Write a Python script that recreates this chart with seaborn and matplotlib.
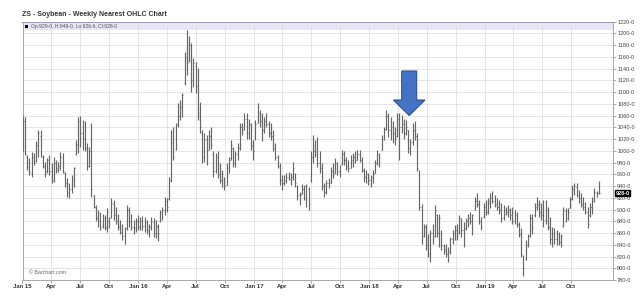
import numpy as np
import pandas as pd
import matplotlib
matplotlib.use("Agg")
import matplotlib.pyplot as plt
import matplotlib.dates as mdates
import matplotlib.transforms as mtransforms
from matplotlib.patches import Rectangle, Polygon
import seaborn as sns

# ---------------- data (weekly nearest soybean futures, cents/bu) ----------------
start_date = "2015-01-02"

high_2015 = [1060, 1058, 993, 987, 998, 996, 1016, 1035, 1036, 993, 981, 988, 993, 979, 990, 984, 981, 998, 996, 964,
             953, 945, 959, 973, 1018, 1058, 1059, 1052, 1050, 1013, 1007, 1047, 925, 908, 899, 896, 893, 891, 902, 888,
             919, 916, 905, 893, 882, 876, 871, 908, 905, 893, 882, 885]
low_2015 = [1000, 993, 968, 959, 956, 976, 981, 990, 990, 970, 955, 962, 959, 946, 947, 962, 964, 967, 962, 939,
            922, 919, 928, 939, 993, 996, 1007, 1001, 1000, 967, 973, 922, 902, 880, 871, 865, 868, 865, 862, 868,
            885, 882, 876, 865, 859, 848, 842, 865, 871, 865, 859, 862]
open_2015 = [1005, 1050, 990, 975, 962, 990, 982, 1010, 1025, 990, 975, 965, 985, 965, 950, 980, 968, 975, 990, 962,
             945, 925, 935, 950, 995, 1010, 1045, 1030, 1020, 1005, 975, 995, 925, 905, 885, 880, 872, 885, 870, 880,
             888, 910, 890, 880, 872, 862, 855, 868, 900, 880, 870, 868]
close_2015 = [1050, 995, 972, 965, 990, 980, 1010, 1030, 995, 975, 960, 985, 965, 950, 980, 970, 975, 990, 965, 945,
              928, 935, 955, 970, 1012, 1050, 1030, 1020, 1005, 975, 1000, 935, 905, 885, 880, 870, 885, 868, 895, 885,
              912, 890, 880, 870, 862, 855, 868, 900, 880, 870, 865, 880]

high_2016 = [891, 887, 889, 887, 882, 876, 888, 885, 882, 876, 899, 905, 922, 919, 956, 1035, 1041, 1047, 1081, 1087,
             1098, 1169, 1206, 1195, 1183, 1158, 1152, 1141, 1084, 1035, 1030, 1027, 1035, 1041, 999, 996, 999, 979, 967, 956,
             979, 990, 1018, 1007, 999, 1013, 1047, 1047, 1064, 1064, 1055, 1047, 1018]
low_2016 = [865, 866, 865, 862, 859, 854, 865, 854, 851, 846, 879, 882, 891, 896, 916, 947, 984, 1001, 1041, 1052,
            1058, 1112, 1129, 1152, 1101, 1109, 1098, 1053, 1030, 979, 981, 976, 1001, 1004, 956, 962, 953, 945, 939, 933,
            942, 962, 984, 973, 973, 984, 1001, 1027, 1035, 1021, 1021, 1001, 984]
open_2016 = [880, 870, 880, 872, 878, 865, 870, 878, 860, 870, 880, 892, 900, 915, 918, 950, 1015, 1003, 1045, 1060,
             1075, 1115, 1160, 1155, 1180, 1120, 1145, 1110, 1060, 1030, 990, 1018, 1002, 1025, 995, 965, 990, 960, 950, 955,
             942, 970, 988, 1005, 980, 995, 1005, 1040, 1035, 1055, 1030, 1045, 1008]
close_2016 = [870, 880, 872, 878, 865, 870, 880, 860, 872, 860, 895, 900, 915, 905, 950, 1015, 990, 1040, 1060, 1075,
              1095, 1160, 1150, 1185, 1120, 1150, 1110, 1065, 1040, 990, 1020, 1000, 1025, 1010, 965, 990, 960, 950, 960, 940,
              970, 985, 1010, 980, 995, 1005, 1040, 1035, 1055, 1030, 1045, 1010, 1000]

high_2017 = [1052, 1081, 1070, 1064, 1058, 1064, 1050, 1047, 1035, 1013, 993, 979, 959, 959, 962, 964, 962, 981, 962, 942,
             930, 944, 942, 944, 939, 999, 1027, 1018, 1024, 999, 979, 945, 950, 953, 973, 979, 987, 981, 976, 1001,
             999, 990, 984, 993, 996, 999, 1001, 1001, 990, 970, 967, 962]
low_2017 = [1018, 1047, 1041, 1016, 1030, 1041, 1024, 1018, 1000, 984, 970, 942, 933, 942, 945, 950, 942, 950, 939, 916,
            908, 927, 916, 905, 899, 947, 979, 990, 973, 962, 933, 922, 927, 936, 945, 953, 962, 959, 956, 976,
            976, 967, 964, 970, 973, 979, 984, 981, 964, 947, 945, 942]
open_2017 = [1020, 1048, 1065, 1050, 1035, 1048, 1045, 1030, 1025, 1005, 990, 975, 950, 945, 950, 955, 952, 955, 960, 940,
             925, 927, 935, 920, 935, 950, 990, 1000, 1000, 980, 970, 940, 930, 945, 945, 965, 962, 980, 965, 978,
             995, 985, 975, 970, 985, 990, 985, 995, 985, 968, 955, 958]
close_2017 = [1045, 1065, 1050, 1035, 1050, 1045, 1030, 1025, 1005, 990, 975, 950, 945, 950, 955, 952, 955, 970, 945, 925,
              925, 935, 920, 940, 935, 990, 1000, 995, 980, 970, 940, 930, 945, 945, 965, 960, 980, 965, 970, 995,
              985, 975, 970, 985, 990, 985, 995, 985, 968, 955, 960, 950]

high_2018 = [959, 967, 984, 1001, 996, 1027, 1041, 1070, 1064, 1058, 1050, 1041, 1064, 1064, 1061, 1055, 1052, 1035, 1021, 1047,
             1050, 1030, 968, 910, 876, 876, 859, 865, 876, 908, 893, 893, 865, 842, 842, 837, 854, 865, 873, 876,
             891, 885, 879, 885, 893, 896, 893, 922, 928, 916, 888, 911]
low_2018 = [939, 945, 962, 976, 973, 1001, 1018, 1035, 1024, 1018, 1013, 1010, 1024, 984, 1030, 1021, 1027, 996, 993, 1010,
            1018, 965, 899, 842, 854, 831, 820, 811, 842, 854, 854, 837, 831, 825, 820, 811, 825, 842, 848, 848,
            859, 854, 837, 865, 871, 876, 857, 899, 905, 876, 865, 885]
open_2018 = [950, 955, 962, 980, 995, 1002, 1020, 1038, 1060, 1035, 1040, 1030, 1025, 1055, 1040, 1045, 1030, 1035, 1005, 1015,
             1035, 1025, 965, 905, 855, 870, 840, 825, 860, 855, 890, 860, 862, 838, 832, 825, 830, 850, 860, 865,
             860, 882, 865, 868, 880, 885, 880, 900, 915, 910, 880, 888]
close_2018 = [955, 960, 980, 995, 990, 1020, 1035, 1060, 1035, 1040, 1030, 1020, 1055, 1040, 1045, 1030, 1040, 1005, 1015, 1035,
              1025, 970, 905, 855, 870, 840, 825, 860, 850, 900, 860, 885, 840, 830, 825, 830, 850, 860, 865, 855,
              885, 865, 845, 880, 885, 880, 890, 915, 910, 880, 870, 905]

high_2019 = [916, 919, 928, 931, 925, 919, 916, 911, 908, 905, 908, 902, 905, 899, 896, 879, 868, 823, 848, 859,
             893, 893, 911, 922, 916, 911, 916, 916, 905, 888, 871, 868, 865, 862, 859, 905, 902, 902, 922, 942,
             945, 945, 933, 928, 922, 913, 905, 911, 922, 936, 931, 949]
low_2019 = [891, 893, 902, 911, 905, 899, 893, 879, 882, 891, 888, 882, 876, 876, 871, 854, 820, 786, 814, 837,
            854, 859, 888, 899, 888, 882, 871, 876, 865, 842, 837, 842, 840, 840, 837, 871, 879, 882, 902, 916,
            925, 922, 911, 905, 899, 893, 868, 888, 893, 913, 922, 926.75]
open_2019 = [905, 895, 912, 920, 915, 910, 905, 900, 885, 900, 895, 900, 890, 880, 890, 875, 858, 822, 816, 840,
             855, 885, 890, 905, 910, 895, 890, 882, 900, 870, 850, 858, 850, 858, 845, 872, 898, 885, 902, 918,
             935, 938, 925, 920, 910, 905, 895, 890, 905, 915, 928, 929]
close_2019 = [895, 915, 920, 915, 910, 905, 900, 885, 900, 895, 900, 890, 880, 890, 875, 858, 825, 800, 840, 855,
              885, 870, 905, 910, 895, 890, 880, 905, 870, 850, 860, 850, 858, 845, 855, 900, 885, 895, 918, 935,
              940, 925, 920, 910, 905, 895, 875, 905, 915, 930, 928, 928]

xtick_dates = ["2015-01-01", "2015-04-01", "2015-07-01", "2015-10-01",
               "2016-01-01", "2016-04-01", "2016-07-01", "2016-10-01",
               "2017-01-01", "2017-04-01", "2017-07-01", "2017-10-01",
               "2018-01-01", "2018-04-01", "2018-07-01", "2018-10-01",
               "2019-01-01", "2019-04-01", "2019-07-01", "2019-10-01"]
xtick_labels = ["Jan 15", "Apr", "Jul", "Oct", "Jan 16", "Apr", "Jul", "Oct",
                "Jan 17", "Apr", "Jul", "Oct", "Jan 18", "Apr", "Jul", "Oct",
                "Jan 19", "Apr", "Jul", "Oct"]
ytick_values = list(range(780, 1221, 20))
ytick_labels = [f"{v}-0" for v in ytick_values]

title = "ZS - Soybean - Weekly Nearest OHLC Chart"
header = "Op:929-0, H:949-0, Lo:926-6, Cl:928-0"
last_label = "928-0"
last_close = 928

high = high_2015 + high_2016 + high_2017 + high_2018 + high_2019
low = low_2015 + low_2016 + low_2017 + low_2018 + low_2019
opn = open_2015 + open_2016 + open_2017 + open_2018 + open_2019
close = close_2015 + close_2016 + close_2017 + close_2018 + close_2019

df = pd.DataFrame({
    "date": pd.date_range(start_date, periods=len(high), freq="7D"),
    "open": opn, "high": high, "low": low, "close": close,
})
df["x"] = mdates.date2num(df["date"])

# ---------------- style ----------------
sns.set_theme(style="white")
plt.rcParams["font.family"] = ["Liberation Sans", "DejaVu Sans"]

W, H = 640, 301
fig = plt.figure(figsize=(W / 100, H / 100), dpi=100)
fig.patch.set_facecolor("white")
L, R, T, B = 22.5, 613.0, 21.7, 280.0
ax = fig.add_axes([L / W, 1 - B / H, (R - L) / W, (B - T) / H])
ax.set_facecolor("white")

ax.set_ylim(780, 1220)
ax.set_xlim(mdates.date2num(pd.Timestamp("2015-01-01")), mdates.date2num(pd.Timestamp("2020-02-10")))

# header band
band_h = 8.3 / (B - T)
ax.add_patch(Rectangle((0, 1 - band_h), 1, band_h, transform=ax.transAxes,
                       facecolor="#e6e6f7", edgecolor="none", zorder=0.3))

# grid
ax.set_yticks(ytick_values)
ax.set_yticklabels(ytick_labels)
xt = mdates.date2num(pd.to_datetime(xtick_dates))
ax.set_xticks(xt)
ax.set_xticklabels(xtick_labels)
ax.grid(True, color="#e0e0e0", linewidth=0.6, zorder=0.5)
ax.set_axisbelow(True)

ax.yaxis.tick_right()
ax.tick_params(axis="y", which="both", right=True, left=False, length=2, width=0.5,
               color="#888888", pad=1, labelsize=4, labelcolor="#444444")
ax.tick_params(axis="x", which="both", bottom=True, length=2, width=0.5,
               color="#888888", pad=1.2, labelsize=4.3, labelcolor="#333333")
for lbl in ax.get_xticklabels():
    lbl.set_fontweight("bold")

for s in ax.spines.values():
    s.set_color("#a8a8a8")
    s.set_linewidth(0.7)
ax.spines["top"].set_color("#9a9ab8")

# OHLC bars
bar_color = "#666666"
tick_w = 2.6
ax.vlines(df["x"], df["low"], df["high"], color=bar_color, linewidth=0.85, zorder=3)
ax.hlines(df["open"], df["x"] - tick_w, df["x"], color=bar_color, linewidth=0.6, zorder=3)
ax.hlines(df["close"], df["x"], df["x"] + tick_w, color=bar_color, linewidth=0.6, zorder=3)

# header texts
fig.text(22 / W, 1 - 15 / H, title, fontsize=5, fontweight="bold", color="#333333",
         va="center", ha="left")
ax.add_patch(Rectangle((25 / W, 1 - 28.2 / H), 3.0 / W, 3.0 / H, transform=fig.transFigure,
                       facecolor="black", edgecolor="none", zorder=5))
fig.text(31 / W, 1 - 26.3 / H, header, fontsize=3.6, color="#555555", va="center", ha="left")

# watermark
ax.text((29 - L) / (R - L), (B - 273) / (B - T), "© Barchart.com", transform=ax.transAxes,
        fontsize=3.8, color="#666666", va="center", ha="left", zorder=4)

# last price box
trans = mtransforms.blended_transform_factory(ax.transAxes, ax.transData)
ax.text(1 + 2.5 / (R - L), last_close, last_label, transform=trans, fontsize=4,
        color="white", fontweight="bold", va="center", ha="left", zorder=6, clip_on=False,
        bbox=dict(boxstyle="square,pad=0.12", facecolor="black", edgecolor="black"))

# blue annotation arrow (pixel geometry -> figure fraction)
arrow_px = [(401.7, 71), (416.7, 71), (416.7, 100), (425.0, 100), (409.2, 115.5),
            (393.4, 100), (401.7, 100)]
arrow_fig = [(x / W, 1 - y / H) for x, y in arrow_px]
fig.patches.append(Polygon(arrow_fig, closed=True, transform=fig.transFigure,
                           facecolor="#4472c4", edgecolor="#2f528f", linewidth=0.8, zorder=10))

fig.savefig("out.png", dpi=100, facecolor="white")
